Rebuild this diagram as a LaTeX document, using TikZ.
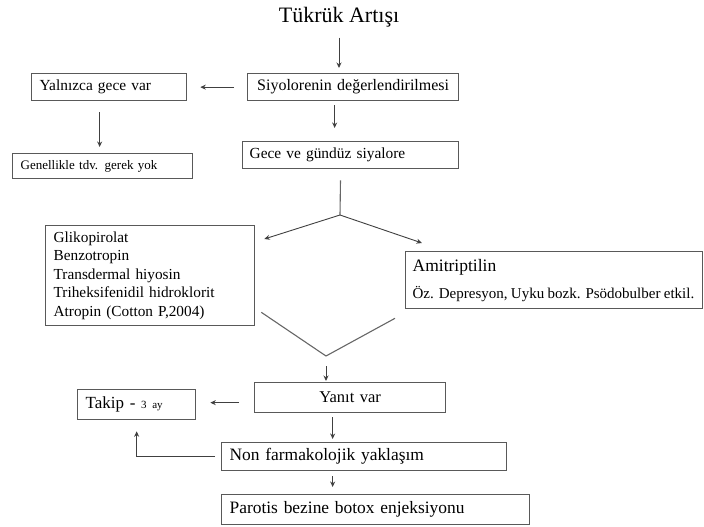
\documentclass[tikz,border=0pt]{standalone}
\usepackage{fontspec}
\setmainfont{Liberation Serif}
\usetikzlibrary{arrows.meta,calc}
\begin{document}
\begin{tikzpicture}[x=1pt,y=-1pt,
  bx/.style={draw=black!65, line width=1.3pt, anchor=north west, inner xsep=8pt, inner ysep=0pt, align=left},
  arr/.style={draw=black!75, line width=0.9pt, -{Stealth[length=5.5pt,width=5pt]}},
  ln/.style={draw=black!60, line width=1.1pt}]
\useasboundingbox (0,0) rectangle (704,527);
\node[font=\fontsize{22}{24}\selectfont] (title) at (339,17) {Tükrük Artışı};
\node[bx, minimum width=211pt, minimum height=27pt, text width=195pt, align=center, font=\fontsize{16}{18}\selectfont] (siy) at (247,73) {Siyolorenin değerlendirilmesi};
\node[bx, minimum width=155pt, minimum height=27pt, text width=139pt, font=\fontsize{15.4}{17}\selectfont] (yal) at (31,73) {Yalnızca gece var};
\node[bx, minimum width=180pt, minimum height=25pt, text width=164pt, font=\fontsize{13}{15}\selectfont] (gen) at (12,153) {Genellikle tdv. gerek yok};
\node[bx, minimum width=216pt, minimum height=27pt, inner xsep=7pt, text width=202pt, font=\fontsize{15.4}{17}\selectfont] (gece) at (242,141) {Gece ve gündüz siyalore};
\node[bx, minimum width=209pt, minimum height=100pt, text width=193pt, font=\fontsize{15.3}{18.5}\selectfont] (drugs) at (45,225) {Glikopirolat\\Benzotropin\\Transdermal hiyosin\\Triheksifenidil hidroklorit\\Atropin (Cotton P,2004)};
\node[bx, minimum width=297pt, minimum height=57pt, inner xsep=7pt, text width=283pt] (ami) at (405,251) {{\fontsize{17.5}{19}\selectfont Amitriptilin}\\[10pt]{\fontsize{15}{17}\selectfont Öz. Depresyon, Uyku bozk. Psödobulber etkil.}};
\node[bx, minimum width=191pt, minimum height=30pt, text width=175pt, align=center, font=\fontsize{16.5}{18}\selectfont] (yanit) at (254,382) {\raisebox{-2pt}{Yanıt var}};
\node[bx, minimum width=118pt, minimum height=30pt, text width=102pt, font=\fontsize{17}{19}\selectfont] (takip) at (77,389) {Takip - {\fontsize{11}{13}\selectfont 3 ay}};
\node[bx, minimum width=285pt, minimum height=28pt, text width=269pt, font=\fontsize{17.4}{19}\selectfont] (non) at (221,442) {Non farmakolojik yaklaşım};
\node[bx, minimum width=308pt, minimum height=30pt, text width=292pt, font=\fontsize{17.4}{19}\selectfont] (par) at (221,494) {Parotis bezine botox enjeksiyonu};
\coordinate (split) at (340,215);
\coordinate (vb) at (326,356);
\coordinate (s1) at ($(siy.south)+(-18.5,0)$);
\coordinate (y1) at ($(yal.south)+(-9.5,0)$);
\coordinate (g1) at ($(gece.south)+(-10,0)$);
\coordinate (t1) at ($(yanit.west)+(0,5)$);
\coordinate (n1) at ($(yanit.south)+(-17.5,0)$);
\coordinate (p1) at ($(non.south)+(-31.5,0)$);
\coordinate (d1) at ($(drugs.north east)+(9,14)$);
\coordinate (a1) at ($(ami.north west)+(17,-8)$);
\coordinate (d2) at ($(drugs.south east)+(6,-14)$);
\coordinate (a2) at ($(ami.south west)+(-10,9)$);
\draw[arr, shorten <=7pt, shorten >=5pt] (title.south) -- (title.south |- siy.north);
\draw[arr, shorten <=13pt, shorten >=13pt] (siy.west) -- (yal.east);
\draw[arr, shorten <=4pt, shorten >=13pt] (s1) -- (s1 |- gece.north);
\draw[arr, shorten <=11pt, shorten >=6pt] (y1) -- (y1 |- gen.north);
\draw[ln, shorten <=11pt] (g1) -- (split);
\draw[arr] (split) -- (d1);
\draw[arr] (split) -- (a1);
\draw[ln] (d2) -- (vb) -- (a2);
\draw[arr, shorten <=10pt, shorten >=1pt] (vb) -- (vb |- yanit.north);
\draw[arr, shorten <=15pt, shorten >=14pt] (t1) -- (t1 -| takip.east);
\draw[arr, shorten <=4pt, shorten >=3pt] (n1) -- (n1 |- non.north);
\draw[arr, shorten <=6pt, shorten >=11pt] (non.west) -| (takip.south);
\draw[arr, shorten <=5pt, shorten >=7pt] (p1) -- (p1 |- par.north);
\end{tikzpicture}
\end{document}
